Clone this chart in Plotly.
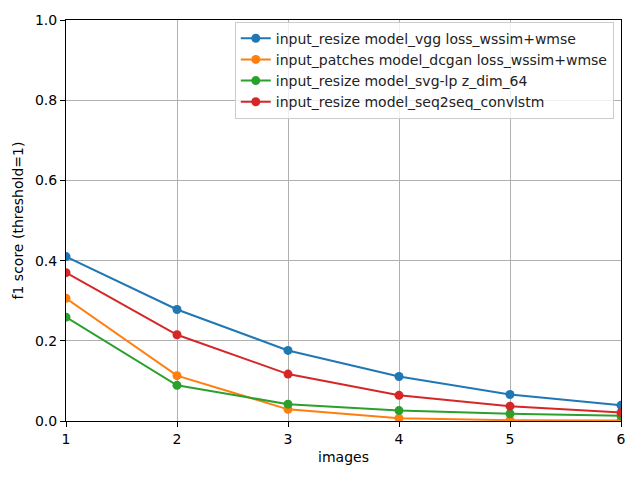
import plotly.graph_objects as go

images = [1, 2, 3, 4, 5, 6]
names = [
    "input_resize model_vgg loss_wssim+wmse",
    "input_patches model_dcgan loss_wssim+wmse",
    "input_resize model_svg-lp z_dim_64",
    "input_resize model_seq2seq_convlstm",
]
vgg = [0.410, 0.278, 0.176, 0.111, 0.066, 0.039]
dcgan = [0.306, 0.113, 0.029, 0.007, 0.002, 0.001]
svg = [0.259, 0.089, 0.042, 0.026, 0.018, 0.013]
seq2seq = [0.370, 0.215, 0.117, 0.064, 0.037, 0.021]
colors = ["#1f77b4", "#ff7f0e", "#2ca02c", "#d62728"]

fig = go.Figure()
for name, ys, c in zip(names, [vgg, dcgan, svg, seq2seq], colors):
    fig.add_trace(go.Scatter(
        x=images, y=ys, name=name, mode="lines+markers",
        line=dict(color=c, width=2),
        marker=dict(color=c, size=9),
    ))

FS = 14
axis_common = dict(
    showline=True, linecolor="black", linewidth=1, mirror=True,
    ticks="outside", ticklen=5, tickcolor="black",
    showgrid=True, gridcolor="#b0b0b0", gridwidth=1,
    zeroline=False,
    tickfont=dict(family="DejaVu Sans", size=FS, color="black"),
)
fig.update_xaxes(range=[1, 6], tickvals=images, ticktext=[str(i) for i in images],
                 title=dict(text="images", font=dict(family="DejaVu Sans", size=FS, color="black"), standoff=6),
                 **axis_common)
fig.update_yaxes(range=[0, 1], tickvals=[0, 0.2, 0.4, 0.6, 0.8, 1.0],
                 ticktext=["0.0", "0.2", "0.4", "0.6", "0.8", "1.0"],
                 title=dict(text="f1 score (threshold=1)", font=dict(family="DejaVu Sans", size=FS, color="black"), standoff=8),
                 **axis_common)

fig.update_layout(
    width=640, height=480,
    margin=dict(l=66, r=19, t=20, b=59, autoexpand=False),
    plot_bgcolor="white", paper_bgcolor="white",
    font=dict(family="DejaVu Sans", size=FS, color="black"),
    legend=dict(
        x=0.987, y=0.996, xanchor="right", yanchor="top",
        bgcolor="rgba(255,255,255,0.8)", bordercolor="#cccccc", borderwidth=1,
        font=dict(family="DejaVu Sans", size=FS, color="#222"),
        tracegroupgap=0, itemwidth=30,
    ),
    showlegend=True,
)

fig.write_html("out.html", config={"displayModeBar": False},
               post_script="document.body.style.margin='0';")
